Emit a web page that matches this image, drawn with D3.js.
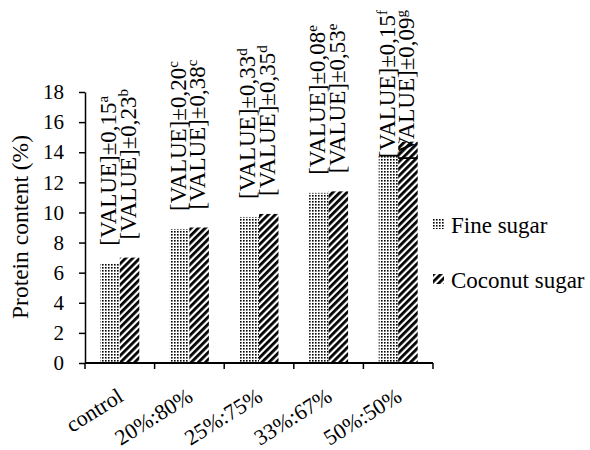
<!DOCTYPE html>
<html>
  <head>
    <meta charset="utf-8" />
    <title>Protein content</title>
    <style>
      body { margin: 0; background: #fff; }
    </style>
  </head>
  <body>
    <svg id="chart" width="590" height="450"></svg>
    <script src="https://d3js.org/d3.v7.min.js"></script>
    <script>
      // data
      const categories = ["control", "20%:80%", "25%:75%", "33%:67%", "50%:50%"];
      const seriesNames = ["Fine sugar", "Coconut sugar"];
      const fineSugar = [6.6, 8.9, 9.7, 11.3, 13.8];
      const coconutSugar = [7.0, 9.0, 9.9, 11.4, 14.7];
      const fineSd = ["0,15", "0,20", "0,33", "0,08", "0,15"];
      const coconutSd = ["0,23", "0,38", "0,35", "0,53", "0,09"];
      const fineLetters = ["a", "c", "d", "e", "f"];
      const coconutLetters = ["b", "c", "d", "e", "g"];
      const yTicks = [0, 2, 4, 6, 8, 10, 12, 14, 16, 18];

      const FONT = "Liberation Serif";

      let svg = d3.select("#chart").attr("font-family", FONT);

      let xScale = d3.scaleBand().domain(categories).range([85, 433]);
      let yScale = d3.scaleLinear().domain([0, 18]).range([363, 92]);
      let bw = xScale.bandwidth();

      // fill patterns
      let defs = svg.append("defs");
      let dots = defs
        .append("pattern")
        .attr("id", "dots")
        .attr("patternUnits", "userSpaceOnUse")
        .attr("width", 3)
        .attr("height", 3);
      dots.append("rect").attr("width", 3).attr("height", 3).attr("fill", "#fff");
      dots.append("rect").attr("width", 1.6).attr("height", 1.6).attr("fill", "#000");

      let stripes = defs
        .append("pattern")
        .attr("id", "stripes")
        .attr("patternUnits", "userSpaceOnUse")
        .attr("width", 5)
        .attr("height", 5)
        .attr("patternTransform", "rotate(45)");
      stripes.append("rect").attr("width", 5).attr("height", 5).attr("fill", "#fff");
      stripes.append("rect").attr("width", 2.8).attr("height", 5).attr("fill", "#000");

      let series = [
        { name: seriesNames[0], values: fineSugar, sd: fineSd, letters: fineLetters, fill: "url(#dots)", off: 0.22 },
        { name: seriesNames[1], values: coconutSugar, sd: coconutSd, letters: coconutLetters, fill: "url(#stripes)", off: 0.5 },
      ];
      let barW = bw * 0.28;

      // bars
      series.forEach(function (s) {
        svg
          .append("g")
          .selectAll("rect")
          .data(categories)
          .enter()
          .append("rect")
          .attr("x", (d) => xScale(d) + bw * s.off)
          .attr("y", (d, i) => yScale(s.values[i]))
          .attr("width", barW)
          .attr("height", (d, i) => yScale(0) - yScale(s.values[i]))
          .attr("fill", s.fill);
      });

      // y axis
      let yAxis = svg
        .append("g")
        .attr("transform", "translate(85,0)")
        .call(d3.axisLeft(yScale).tickValues(yTicks).tickSize(6).tickSizeOuter(0).tickPadding(15));
      yAxis.attr("font-family", FONT).attr("font-size", 21);
      yAxis.select(".domain").attr("stroke-width", 1.5);
      yAxis.selectAll(".tick line").attr("stroke-width", 1.5);
      yAxis.selectAll("text").attr("fill", "#000");

      // x axis with ticks on band edges
      let xAxis = svg.append("g").attr("transform", "translate(0,363)");
      xAxis
        .append("line")
        .attr("x1", xScale.range()[0])
        .attr("x2", xScale.range()[1])
        .attr("stroke", "#000")
        .attr("stroke-width", 2);
      xAxis
        .selectAll(".edge")
        .data(categories.concat(["end"]))
        .enter()
        .append("line")
        .attr("x1", (d, i) => xScale.range()[0] + i * bw)
        .attr("x2", (d, i) => xScale.range()[0] + i * bw)
        .attr("y1", 0)
        .attr("y2", 6)
        .attr("stroke", "#000")
        .attr("stroke-width", 1.5);
      xAxis
        .selectAll(".lbl")
        .data(categories)
        .enter()
        .append("text")
        .attr("text-anchor", "end")
        .attr("transform", (d) => "translate(" + (xScale(d) + bw / 2 + 5) + ",37) rotate(-32)")
        .attr("font-family", FONT)
        .attr("font-size", 22)
        .text((d) => d);

      // y axis title
      svg
        .append("text")
        .attr("transform", "translate(28,227) rotate(-90)")
        .attr("text-anchor", "middle")
        .attr("font-family", FONT)
        .attr("font-size", 23.5)
        .text("Protein content (%)");

      // value labels, rotated, pushed down when they would leave the figure
      series.forEach(function (s) {
        categories.forEach(function (c, i) {
          let cx = xScale(c) + bw * s.off + barW / 2;
          let t = svg
            .append("text")
            .attr("font-family", FONT)
            .attr("font-size", 23)
            .attr("dy", "0.27em");
          t.append("tspan").text("[VALUE]±" + s.sd[i]);
          t.append("tspan")
            .attr("baseline-shift", "super")
            .attr("font-size", 15)
            .text(s.letters[i]);
          let len = t.node().getComputedTextLength();
          let y0 = Math.max(yScale(s.values[i]) - 18, 10 + len);
          t.attr("transform", "translate(" + cx + "," + y0 + ") rotate(-90)");
        });
      });

      // legend
      let legend = svg
        .selectAll(".legend")
        .data(series)
        .enter()
        .append("g")
        .attr("transform", (d, i) => "translate(433," + (225 + i * 55) + ")");
      legend
        .append("rect")
        .attr("x", 0)
        .attr("y", -6)
        .attr("width", 11)
        .attr("height", 10)
        .attr("fill", (d) => d.fill);
      legend
        .append("text")
        .attr("x", 18)
        .attr("y", 8)
        .attr("font-family", FONT)
        .attr("font-size", 23)
        .text((d) => d.name);
    </script>
  </body>
</html>
